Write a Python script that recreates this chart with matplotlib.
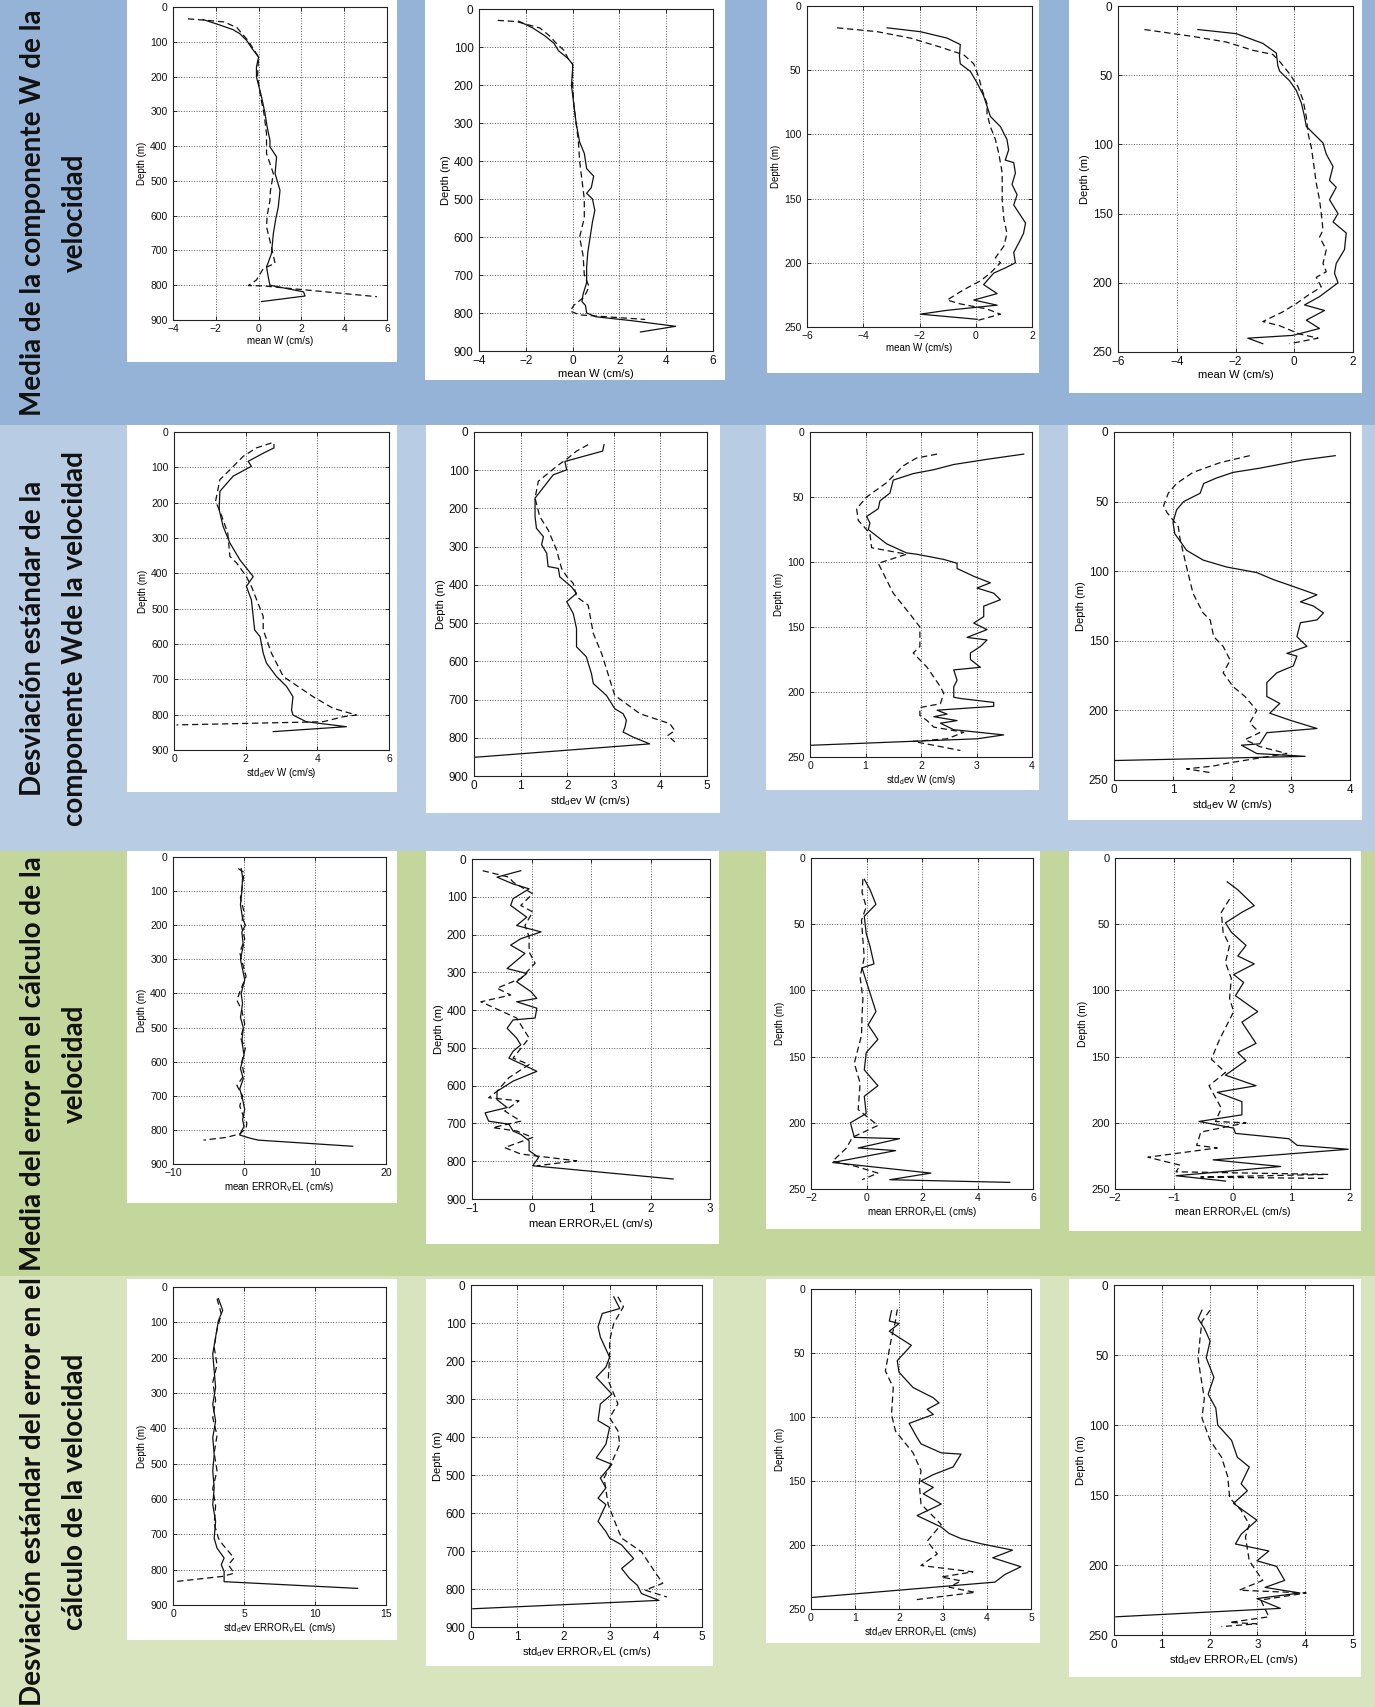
import matplotlib
matplotlib.use("Agg")
import matplotlib.pyplot as plt
from matplotlib.patches import Rectangle

W, H = 1375, 1707

plt.rcParams["font.family"] = ["Liberation Sans", "DejaVu Sans"]
plt.rcParams["mathtext.fontset"] = "custom"
plt.rcParams["mathtext.rm"] = "Liberation Sans"
plt.rcParams["mathtext.default"] = "regular"

# ---- row titles and band colours ----
row_titles = [
    ("Media de la componente W de la", "velocidad"),
    ("Desviación estándar de la", "componente Wde la velocidad"),
    ("Media del error en el cálculo de la", "velocidad"),
    ("Desviación estándar del error en el", "cálculo de la velocidad"),
]
band_colors = ["#95b3d7", "#b8cce4", "#c3d69b", "#d7e4bd"]
band_edges = [0, 425, 851, 1276, 1707]

xlabels = ["mean W (cm/s)", "std$_d$ev W (cm/s)",
           "mean ERROR$_V$EL (cm/s)", "std$_d$ev ERROR$_V$EL (cm/s)"]

# ---- data: (depth m, value) ----
# row 1: mean W
mw1_solid = [(36, -2.6), (50, -1.9), (65, -1.2), (77, -0.87), (96, -0.56), (120, -0.3), (144, 0.0),
             (172, -0.1), (201, -0.1), (259, 0.14), (306, 0.3), (345, 0.4), (383, 0.53), (402, 0.53),
             (431, 0.84), (479, 0.77), (527, 1.0), (575, 0.92), (610, 0.8), (651, 0.69), (709, 0.6),
             (735, 0.45), (747, 0.37), (776, 0.45), (800, 0.53), (819, 2.1), (831, 2.17), (847, 0.14)]
mw1_dash = [(34, -3.3), (38, -2.5), (43, -1.6), (60, -1.0), (75, -0.8), (96, -0.5), (144, 0.0),
            (200, -0.05), (260, 0.1), (306, 0.25), (364, 0.37), (421, 0.37), (479, 0.69), (530, 0.55),
            (556, 0.53), (600, 0.4), (632, 0.37), (690, 0.6), (737, 0.77), (752, 0.22), (785, -0.1),
            (801, -0.48), (802, 0.22), (833, 5.53)]
mw2_solid = [(32, -2.3), (50, -1.7), (70, -1.2), (90, -0.8), (110, -0.6), (130, -0.2), (145, 0.0),
             (160, 0.0), (200, -0.05), (250, 0.05), (300, 0.15), (350, 0.3), (380, 0.5), (420, 0.6),
             (440, 0.9), (470, 0.8), (485, 0.6), (500, 0.85), (530, 0.95), (560, 0.85), (600, 0.75),
             (640, 0.65), (680, 0.6), (720, 0.6), (750, 0.45), (770, 0.4), (780, 0.55), (800, 0.6),
             (810, 1.0), (820, 2.5), (835, 4.4), (850, 2.9)]
mw2_dash = [(30, -3.2), (33, -2.4), (50, -1.4), (70, -1.0), (90, -0.7), (110, -0.35), (130, -0.2),
            (145, 0.0), (200, 0.0), (250, 0.05), (300, 0.15), (350, 0.25), (400, 0.3), (450, 0.4),
            (500, 0.5), (550, 0.5), (600, 0.3), (650, 0.45), (700, 0.5), (730, 0.7), (745, 0.6),
            (760, 0.45), (780, 0.05), (795, -0.1), (805, 0.3), (817, 3.1)]
mw3_solid = [(17, -3.15), (20, -1.97), (25, -1.02), (30, -0.55), (39, -0.58), (45, -0.55), (51, -0.19),
             (60, 0.05), (70, 0.28), (78, 0.4), (86, 0.52), (94, 0.88), (104, 1.11), (112, 1.17),
             (120, 1.05), (122, 1.35), (130, 1.41), (139, 1.29), (147, 1.47), (155, 1.35), (161, 1.53),
             (169, 1.77), (177, 1.7), (182, 1.59), (192, 1.35), (200, 1.41), (204, 1.05), (208, 0.64),
             (217, 0.28), (224, 0.76), (229, -0.07), (233, 0.76), (237, -1.02), (240, -1.97), (244, 0.05)]
mw3_dash = [(17, -4.93), (20, -3.5), (25, -2.32), (32, -1.26), (38, -0.43), (45, -0.07), (55, 0.1),
            (65, 0.22), (76, 0.4), (84, 0.4), (94, 0.52), (104, 0.7), (115, 0.82), (130, 0.94),
            (151, 0.94), (166, 1.0), (177, 1.11), (187, 1.0), (196, 0.7), (200, 0.88), (208, 0.52),
            (214, 0.17), (221, -0.43), (229, -1.02), (232, -0.55), (236, 0.4), (240, 0.88), (245, 0.05)]
mw4_solid = [(17, -3.28), (20, -1.97), (27, -1.07), (34, -0.61), (43, -0.56), (47, -0.5), (54, -0.16),
             (61, 0.07), (70, 0.24), (80, 0.35), (87, 0.41), (99, 0.98), (107, 1.09), (116, 1.32),
             (126, 1.2), (131, 1.43), (140, 1.2), (150, 1.49), (156, 1.32), (164, 1.77), (176, 1.71),
             (186, 1.43), (193, 1.37), (200, 1.49), (210, 0.86), (216, 0.35), (220, 1.03), (227, 0.41),
             (233, 0.86), (238, -0.05), (240, -1.58), (244, -1.07)]
mw4_dash = [(17, -5.1), (22, -3.45), (26, -2.32), (32, -1.41), (35, -0.73), (40, -0.5), (49, -0.16),
            (58, 0.12), (68, 0.3), (80, 0.41), (92, 0.47), (102, 0.58), (111, 0.64), (128, 0.75),
            (140, 0.86), (150, 0.92), (162, 0.98), (167, 0.86), (176, 1.09), (186, 0.98), (192, 1.09),
            (196, 0.75), (203, 0.92), (209, 0.47), (215, 0.07), (221, -0.39), (228, -1.07), (231, -0.5),
            (237, 0.18), (240, 0.81), (244, -0.16)]

# row 2: std W
sw1_solid = [(36, 2.79), (45, 2.79), (60, 2.49), (83, 2.07), (97, 2.16), (125, 1.65), (168, 1.28),
             (220, 1.26), (267, 1.37), (314, 1.56), (362, 1.84), (409, 2.21), (437, 2.02), (475, 2.16),
             (522, 2.21), (560, 2.25), (579, 2.4), (626, 2.49), (654, 2.58), (692, 2.86), (720, 3.14),
             (749, 3.32), (787, 3.28), (801, 3.32), (820, 3.69), (834, 4.81), (848, 2.77)]
sw1_dash = [(31, 2.72), (45, 2.3), (69, 1.93), (107, 1.56), (135, 1.28), (196, 1.16), (229, 1.3),
            (286, 1.5), (352, 1.56), (371, 1.75), (409, 2.02), (437, 2.16), (522, 2.49), (560, 2.49),
            (626, 2.72), (692, 3.05), (749, 3.88), (782, 4.44), (801, 5.09), (806, 4.72), (820, 4.16),
            (829, 0.07)]
sw2_solid = [(33, 2.79), (50, 2.76), (77, 1.95), (99, 1.99), (112, 1.7), (134, 1.56), (173, 1.31),
             (221, 1.31), (252, 1.34), (274, 1.49), (295, 1.45), (317, 1.56), (352, 1.59), (357, 1.81),
             (379, 1.84), (405, 2.09), (422, 2.2), (444, 1.99), (475, 2.13), (514, 2.2), (562, 2.2),
             (588, 2.41), (632, 2.52), (658, 2.56), (689, 2.84), (702, 2.91), (724, 3.02), (737, 3.2),
             (754, 3.27), (772, 3.24), (785, 3.2), (798, 3.41), (816, 3.77), (851, 0.02)]
sw2_dash = [(33, 2.45), (50, 2.2), (68, 2.02), (90, 1.77), (129, 1.38), (173, 1.31), (221, 1.41),
            (256, 1.59), (308, 1.77), (357, 1.88), (378, 1.99), (396, 2.13), (431, 2.2), (453, 2.45),
            (527, 2.56), (580, 2.74), (689, 3.02), (737, 3.56), (763, 4.2), (781, 4.31), (794, 4.16),
            (811, 4.31)]
sw3_solid = [(17, 3.85), (21, 3.19), (25, 2.59), (29, 2.23), (32, 1.86), (37, 1.5), (47, 1.44),
             (53, 1.26), (59, 1.23), (65, 1.02), (70, 1.08), (75, 1.05), (86, 1.38), (93, 1.74),
             (94, 1.92), (98, 2.41), (101, 2.65), (105, 2.65), (111, 2.95), (116, 3.25), (120, 3.01),
             (124, 3.31), (129, 3.43), (134, 3.13), (142, 3.13), (147, 2.95), (152, 3.19), (158, 2.83),
             (160, 3.19), (165, 3.07), (170, 2.89), (175, 2.89), (181, 3.07), (183, 2.59), (191, 2.65),
             (196, 2.59), (204, 2.59), (205, 2.71), (208, 3.31), (211, 3.31), (214, 2.29), (217, 2.47),
             (219, 2.23), (222, 2.65), (224, 2.35), (229, 2.59), (233, 3.49), (236, 3.01), (241, 0.0)]
sw3_dash = [(17, 2.29), (20, 1.92), (26, 1.68), (39, 1.38), (50, 1.02), (59, 0.84), (68, 0.87),
            (78, 1.08), (89, 1.11), (94, 1.74), (101, 1.23), (124, 1.5), (140, 1.8), (150, 1.98),
            (165, 1.98), (170, 1.86), (181, 2.11), (196, 2.35), (201, 2.41), (209, 2.35), (212, 1.98),
            (218, 1.98), (222, 2.11), (227, 2.23), (231, 2.77), (236, 2.47), (238, 1.86), (241, 2.23),
            (245, 2.71)]
sw4_solid = [(17, 3.75), (20, 3.21), (26, 2.47), (29, 2.02), (33, 1.74), (37, 1.52), (44, 1.46),
             (50, 1.18), (56, 1.06), (65, 1.0), (73, 1.03), (85, 1.23), (92, 1.51), (97, 1.91),
             (101, 2.42), (106, 2.7), (111, 3.04), (117, 3.44), (122, 3.16), (125, 3.38), (130, 3.55),
             (135, 3.44), (137, 3.16), (147, 3.1), (154, 3.27), (159, 2.93), (161, 3.1), (168, 3.04),
             (173, 2.76), (180, 2.59), (190, 2.59), (195, 2.81), (202, 2.64), (207, 2.98), (213, 3.44),
             (216, 2.59), (224, 2.47), (225, 2.16), (231, 2.42), (233, 3.24), (236, 0.02)]
sw4_dash = [(17, 2.3), (22, 1.8), (29, 1.34), (37, 1.06), (44, 0.92), (53, 0.84), (58, 0.9),
            (68, 1.09), (77, 1.12), (97, 1.23), (116, 1.34), (130, 1.51), (135, 1.63), (147, 1.69),
            (154, 1.85), (164, 1.97), (173, 1.85), (183, 2.02), (190, 2.22), (200, 2.42), (209, 2.3),
            (216, 2.47), (221, 2.22), (226, 2.47), (231, 2.93), (238, 1.91), (240, 1.68), (242, 1.23),
            (245, 1.68)]

# row 3: mean ERROR_VEL
me1_solid = [(34, -0.4), (60, -0.2), (100, -0.3), (140, -0.5), (180, -0.2), (200, 0.2), (220, -0.3),
             (260, -0.1), (300, -0.5), (330, -0.2), (360, 0.1), (400, -0.4), (430, -0.2), (470, -0.5),
             (500, -0.1), (540, -0.3), (580, 0.0), (620, -0.5), (650, -0.1), (680, -0.6), (710, -0.2),
             (740, 0.1), (770, -0.2), (790, 0.0), (806, -0.4), (815, -0.6), (824, 0.8), (830, 2.0),
             (848, 15.3)]
me1_dash = [(34, -0.8), (45, 0.0), (80, -0.2), (120, -0.5), (160, 0.0), (200, -0.4), (240, 0.1),
            (280, -0.6), (320, -0.1), (350, 0.3), (390, -0.5), (420, -1.0), (450, -0.3), (490, 0.1),
            (530, -0.5), (560, 0.2), (600, -0.3), (640, 0.0), (670, -1.0), (700, -0.2), (730, -0.6),
            (760, -0.1), (780, 0.4), (795, 0.3), (812, -0.6), (822, -2.5), (830, -5.7)]
me2_solid = [(31, -0.18), (48, -0.58), (66, -0.31), (79, -0.04), (105, -0.31), (123, -0.35),
             (154, -0.08), (176, -0.25), (193, 0.16), (211, -0.18), (228, -0.35), (250, -0.11),
             (290, -0.41), (303, -0.08), (325, -0.25), (351, -0.01), (369, 0.09), (378, -0.25),
             (395, 0.09), (421, 0.06), (426, -0.31), (448, -0.41), (474, -0.25), (492, -0.18),
             (509, -0.31), (527, -0.38), (562, 0.09), (588, -0.31), (615, -0.58), (637, -0.58),
             (658, -0.41), (672, -0.78), (694, -0.72), (702, -0.38), (720, -0.31), (729, -0.18),
             (746, -0.04), (772, -0.04), (790, 0.12), (812, 0.02), (847, 2.38)]
me2_dash = [(31, -0.82), (48, -0.38), (61, -0.31), (92, 0.02), (123, -0.18), (140, 0.02),
            (176, -0.11), (206, -0.04), (246, -0.04), (276, 0.06), (316, -0.18), (342, -0.58),
            (360, -0.35), (378, -0.85), (421, -0.25), (474, -0.04), (527, -0.31), (544, -0.04),
            (579, -0.38), (615, -0.58), (632, -0.72), (640, -0.21), (667, -0.45), (694, -0.18),
            (711, -0.65), (720, -0.25), (737, 0.02), (764, -0.45), (781, -0.18), (799, 0.76),
            (812, 0.09)]
me3_solid = [(16, -0.08), (24, 0.13), (35, 0.34), (44, -0.08), (57, -0.01), (67, 0.13), (80, 0.27),
             (83, -0.16), (93, -0.01), (116, 0.34), (126, 0.06), (137, 0.41), (147, -0.01),
             (160, -0.08), (172, 0.41), (180, -0.08), (193, -0.01), (200, -0.58), (211, -0.44),
             (212, 1.19), (219, -0.3), (221, 1.05), (230, -1.22), (238, 2.32), (243, 0.84), (245, 5.16)]
me3_dash = [(16, -0.13), (26, -0.16), (37, -0.01), (47, -0.18), (62, -0.13), (75, -0.08),
            (90, -0.23), (106, -0.13), (119, -0.16), (134, -0.18), (155, -0.44), (170, -0.23),
            (190, -0.3), (202, 0.41), (211, -0.51), (219, -0.72), (229, -1.22), (233, -0.37),
            (238, 0.41), (243, -0.16)]
me4_solid = [(18, -0.09), (24, 0.09), (36, 0.37), (41, 0.16), (49, -0.12), (56, -0.02), (66, 0.23),
             (74, 0.09), (80, 0.37), (88, 0.02), (94, 0.19), (104, 0.05), (116, 0.43), (124, 0.16),
             (140, 0.4), (147, 0.09), (153, 0.23), (164, -0.12), (172, 0.4), (177, -0.26), (184, 0.16),
             (194, 0.16), (199, -0.57), (204, 0.02), (208, 0.05), (212, 0.96), (217, 1.1), (220, 1.97),
             (228, -0.33), (233, 0.82), (240, -0.96), (244, -0.12)]
me4_dash = [(31, -0.05), (41, -0.19), (56, -0.16), (66, -0.05), (79, -0.12), (91, -0.02),
            (106, -0.05), (116, 0.02), (137, -0.22), (152, -0.36), (162, -0.12), (172, -0.4),
            (189, -0.19), (199, -0.29), (200, 0.23), (207, -0.54), (217, -0.61), (219, -0.26),
            (226, -1.44), (232, -0.89), (237, -0.96), (239, 1.62), (241, -0.54), (242, 1.55)]

# row 4: std ERROR_VEL
se1_solid = [(33, 3.2), (66, 3.5), (95, 3.2), (142, 3.0), (189, 2.8), (237, 2.9), (284, 3.0),
             (332, 2.8), (379, 3.0), (426, 2.8), (474, 2.9), (521, 2.8), (568, 2.9), (616, 2.8),
             (663, 3.0), (711, 2.9), (739, 3.1), (767, 3.6), (786, 3.4), (805, 3.6), (834, 3.6),
             (853, 13.0)]
se1_dash = [(33, 3.1), (76, 3.4), (120, 3.1), (170, 2.9), (220, 3.1), (270, 2.8), (320, 3.0),
            (370, 2.8), (420, 3.1), (470, 2.9), (520, 3.1), (570, 2.8), (620, 3.0), (670, 2.9),
            (711, 3.2), (729, 3.5), (767, 4.3), (786, 3.9), (810, 4.3), (819, 3.5), (834, 0.1)]
se2_solid = [(31, 3.09), (62, 3.22), (75, 2.84), (110, 2.75), (137, 2.8), (190, 3.0), (216, 2.92),
             (243, 2.71), (287, 3.05), (313, 2.8), (357, 2.75), (375, 3.0), (419, 2.92), (455, 2.71),
             (472, 3.05), (508, 2.8), (534, 2.92), (561, 2.75), (578, 2.92), (622, 2.75), (649, 2.92),
             (666, 3.0), (684, 3.26), (720, 3.52), (746, 3.26), (772, 3.43), (790, 3.6), (812, 3.69),
             (830, 4.07), (852, 0.04)]
se2_dash = [(31, 3.18), (57, 3.3), (101, 3.09), (146, 3.0), (190, 3.0), (251, 2.97), (313, 3.18),
            (349, 3.0), (384, 3.18), (419, 3.22), (455, 3.09), (508, 2.88), (578, 2.97), (631, 3.14),
            (666, 3.26), (702, 3.69), (755, 3.98), (785, 4.15), (803, 3.77), (821, 4.24)]
se3_solid = [(17, 1.83), (25, 1.78), (27, 2.0), (33, 1.78), (44, 2.28), (56, 1.96), (65, 2.0),
             (77, 2.32), (85, 2.78), (89, 2.91), (94, 2.64), (98, 2.78), (105, 2.23), (116, 2.41),
             (121, 2.5), (128, 2.96), (129, 3.41), (139, 3.23), (145, 2.78), (150, 2.5), (155, 2.78),
             (160, 2.55), (168, 2.96), (177, 2.41), (186, 2.96), (191, 3.14), (195, 3.41), (199, 3.86),
             (204, 4.58), (210, 4.13), (217, 4.77), (223, 4.41), (229, 4.18), (241, 0.02)]
se3_dash = [(16, 1.96), (25, 1.92), (38, 1.83), (64, 1.69), (77, 1.87), (98, 1.83), (111, 1.92),
            (128, 2.32), (142, 2.5), (152, 2.46), (168, 2.5), (184, 2.96), (197, 2.64), (207, 2.87),
            (216, 2.5), (221, 3.68), (225, 2.96), (228, 3.41), (233, 3.14), (237, 3.73), (243, 2.32)]
se4_solid = [(18, 1.84), (24, 1.76), (31, 1.89), (40, 2.01), (52, 1.93), (66, 2.09), (78, 1.97),
             (88, 2.13), (100, 2.17), (111, 2.46), (123, 2.58), (130, 2.83), (142, 2.66), (147, 2.79),
             (156, 2.5), (168, 2.99), (178, 2.66), (185, 2.54), (190, 3.24), (197, 2.99), (201, 3.4),
             (211, 3.57), (216, 3.16), (220, 3.89), (224, 2.99), (231, 3.48), (237, 0.04)]
se4_dash = [(18, 2.01), (26, 1.84), (38, 1.8), (52, 1.76), (62, 1.8), (81, 1.89), (95, 1.84),
            (111, 2.01), (123, 2.25), (137, 2.38), (152, 2.42), (161, 2.66), (171, 2.83), (180, 2.75),
            (197, 2.83), (211, 3.11), (218, 2.62), (220, 4.02), (225, 3.07), (237, 3.24), (241, 2.42),
            (242, 2.99), (244, 2.25)]

# ---- panel layout in pixels: white box, axes box (x0, y0, x1, y1 from top), font size ----
panels = [
    # row 1
    dict(box=(127, 0, 397, 362), ax=(173, 7, 387, 320), fs=7.5, xlim=(-4, 6), xstep=2, deep=True,
         solid=mw1_solid, dash=mw1_dash, row=0),
    dict(box=(425, 0, 725, 380), ax=(479, 9, 713, 351), fs=8.5, xlim=(-4, 6), xstep=2, deep=True,
         solid=mw2_solid, dash=mw2_dash, row=0),
    dict(box=(767, 0, 1039, 373), ax=(807, 6, 1032, 327), fs=7.5, xlim=(-6, 2), xstep=2, deep=False,
         solid=mw3_solid, dash=mw3_dash, row=0),
    dict(box=(1069, 0, 1362, 393), ax=(1118, 6, 1353, 352), fs=8.5, xlim=(-6, 2), xstep=2, deep=False,
         solid=mw4_solid, dash=mw4_dash, row=0),
    # row 2
    dict(box=(127, 425, 397, 792), ax=(174, 432, 389, 750), fs=7.5, xlim=(0, 6), xstep=2, deep=True,
         solid=sw1_solid, dash=sw1_dash, row=1),
    dict(box=(426, 425, 720, 813), ax=(474, 432, 707, 776), fs=8.5, xlim=(0, 5), xstep=1, deep=True,
         solid=sw2_solid, dash=sw2_dash, row=1),
    dict(box=(766, 425, 1039, 790), ax=(810, 432, 1032, 757), fs=7.5, xlim=(0, 4), xstep=1, deep=False,
         solid=sw3_solid, dash=sw3_dash, row=1),
    dict(box=(1068, 425, 1362, 820), ax=(1114, 432, 1350, 780), fs=8.5, xlim=(0, 4), xstep=1, deep=False,
         solid=sw4_solid, dash=sw4_dash, row=1),
    # row 3
    dict(box=(127, 851, 397, 1203), ax=(173, 857, 386, 1164), fs=7.5, xlim=(-10, 20), xstep=10, deep=True,
         solid=me1_solid, dash=me1_dash, row=2),
    dict(box=(426, 851, 719, 1244), ax=(472, 859, 710, 1199), fs=8.5, xlim=(-1, 3), xstep=1, deep=True,
         solid=me2_solid, dash=me2_dash, row=2),
    dict(box=(766, 851, 1040, 1229), ax=(811, 858, 1033, 1189), fs=7.5, xlim=(-2, 6), xstep=2, deep=False,
         solid=me3_solid, dash=me3_dash, row=2),
    dict(box=(1069, 851, 1361, 1231), ax=(1115, 858, 1350, 1189), fs=8, xlim=(-2, 2), xstep=1, deep=False,
         solid=me4_solid, dash=me4_dash, row=2),
    # row 4
    dict(box=(127, 1279, 397, 1640), ax=(173, 1287, 386, 1605), fs=7.5, xlim=(0, 15), xstep=5, deep=True,
         solid=se1_solid, dash=se1_dash, row=3),
    dict(box=(426, 1279, 713, 1666), ax=(471, 1285, 702, 1627), fs=8.5, xlim=(0, 5), xstep=1, deep=True,
         solid=se2_solid, dash=se2_dash, row=3),
    dict(box=(766, 1279, 1040, 1643), ax=(811, 1289, 1031, 1609), fs=7.5, xlim=(0, 5), xstep=1, deep=False,
         solid=se3_solid, dash=se3_dash, row=3),
    dict(box=(1069, 1279, 1361, 1677), ax=(1114, 1285, 1353, 1635), fs=8.5, xlim=(0, 5), xstep=1, deep=False,
         solid=se4_solid, dash=se4_dash, row=3),
]


def frac(x0, y0, x1, y1):
    return [x0 / W, 1 - y1 / H, (x1 - x0) / W, (y1 - y0) / H]


fig = plt.figure(figsize=(W / 100, H / 100), dpi=100)

# background bands
for i, c in enumerate(band_colors):
    r = frac(0, band_edges[i], W, band_edges[i + 1])
    fig.add_artist(Rectangle((r[0], r[1]), r[2], r[3], transform=fig.transFigure,
                             facecolor=c, edgecolor="none", zorder=0))

# row titles, rotated
for i, (l1, l2) in enumerate(row_titles):
    yc = 1 - (band_edges[i] + band_edges[i + 1]) / 2 / H
    for text, xc in ((l1, 33), (l2, 75)):
        fig.text(xc / W, yc, text, rotation=90, ha="center", va="center",
                 fontsize=20, fontweight="bold", color="#111111",
                 family=["Lato", "DejaVu Sans"])

for p in panels:
    b = frac(*p["box"])
    fig.add_artist(Rectangle((b[0], b[1]), b[2], b[3], transform=fig.transFigure,
                             facecolor="white", edgecolor="none", zorder=1))
    ax = fig.add_axes(frac(*p["ax"]))
    ax.set_zorder(2)
    fs = p["fs"]

    z = [d for d, v in p["solid"]]
    v = [v for d, v in p["solid"]]
    ax.plot(v, z, color="#111111", lw=0.9)
    z = [d for d, v in p["dash"]]
    v = [v for d, v in p["dash"]]
    ax.plot(v, z, color="#111111", lw=0.9, ls=(0, (5, 3)))

    x0, x1 = p["xlim"]
    ax.set_xlim(x0, x1)
    ax.set_xticks(range(x0, x1 + 1, p["xstep"]))
    if p["deep"]:
        ax.set_ylim(900, 0)
        ax.set_yticks(range(0, 901, 100))
    else:
        ax.set_ylim(250, 0)
        ax.set_yticks(range(0, 251, 50))

    ax.grid(True, ls=":", color="0.35", lw=0.7)
    ax.tick_params(direction="in", top=True, right=True, length=3, width=0.6,
                   labelsize=fs, colors="#111111")
    ax.tick_params(axis="y", pad=4)
    ax.tick_params(axis="x", pad=3)
    for s in ax.spines.values():
        s.set_linewidth(0.8)
        s.set_color("#222222")
    ax.set_ylabel("Depth (m)", fontsize=fs - 0.5, labelpad=2)
    ax.set_xlabel(xlabels[p["row"]], fontsize=fs - 0.5, labelpad=1)

fig.savefig("out.png", dpi=100)
